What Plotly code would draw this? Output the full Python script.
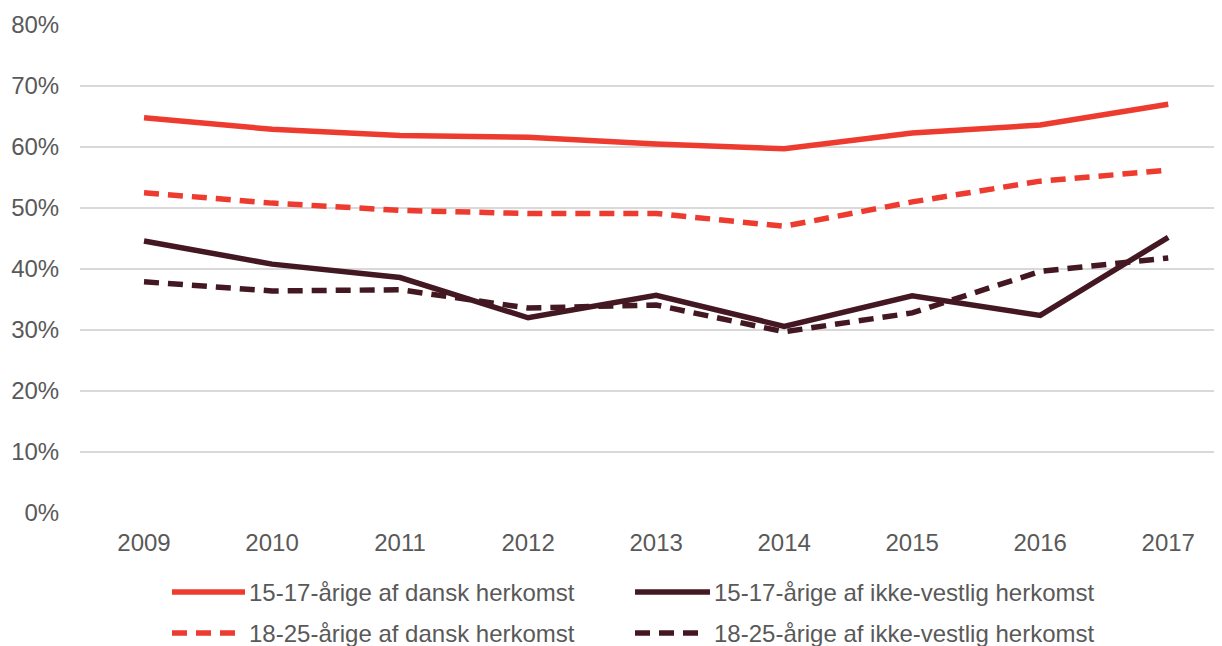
import plotly.graph_objects as go

# years on the x axis
years = ["2009", "2010", "2011", "2012", "2013", "2014", "2015", "2016", "2017"]

# share of each group
dansk_15_17 = [0.648, 0.629, 0.619, 0.616, 0.605, 0.597, 0.623, 0.636, 0.670]
ikkevest_15_17 = [0.446, 0.408, 0.386, 0.320, 0.357, 0.306, 0.356, 0.324, 0.452]
dansk_18_25 = [0.525, 0.508, 0.496, 0.491, 0.491, 0.470, 0.510, 0.544, 0.562]
ikkevest_18_25 = [0.379, 0.364, 0.366, 0.336, 0.341, 0.297, 0.328, 0.396, 0.418]

red = "#EE3B2F"
dark = "#441822"
dash = "15px,9px"

series = [
    ("15-17-årige af dansk herkomst", dansk_15_17, red, "solid"),
    ("15-17-årige af ikke-vestlig herkomst", ikkevest_15_17, dark, "solid"),
    ("18-25-årige af dansk herkomst", dansk_18_25, red, dash),
    ("18-25-årige af ikke-vestlig herkomst", ikkevest_18_25, dark, dash),
]

fig = go.Figure()
for name, vals, col, d in series:
    fig.add_trace(go.Scatter(x=years, y=vals, mode="lines", name=name,
                             line=dict(color=col, width=5.5, dash=d)))

# page body adds an 8px margin, so the figure is 8px smaller each way
W, H = 1214, 638
L, T, B = 72, 17, 133
pw, ph = W - L, H - T - B


def px(x):
    return (x - L) / pw


def py(y):
    return (H - B - y) / ph


# hand-made legend (2 columns x 2 rows), figure pixel positions
cols = [(164, 237), (627, 702)]
rows = [584, 625]
for i, (name, vals, col, d) in enumerate(series):
    x0, x1 = cols[i % 2]
    y = rows[i // 2]
    # dashed samples end a little earlier, like the original
    x1_line = x1 - 6 if d != "solid" else x1
    fig.add_shape(type="line", xref="paper", yref="paper",
                  x0=px(x0), x1=px(x1_line), y0=py(y), y1=py(y),
                  line=dict(color=col, width=5.5, dash=d))
    fig.add_annotation(xref="paper", yref="paper", x=px(x1 + 2), y=py(y),
                       xanchor="left", yanchor="middle", showarrow=False,
                       text=name, font=dict(size=24, color="#595959"))

fig.update_layout(
    width=W, height=H,
    margin=dict(l=L, r=0, t=T, b=B),
    plot_bgcolor="white", paper_bgcolor="white",
    font=dict(family="Liberation Sans, Arial", size=24, color="#595959"),
    showlegend=False,
)
fig.update_xaxes(type="category", range=[-0.5, 8.42], showgrid=False,
                 showline=False, ticks="outside", ticklen=8, tickcolor="white",
                 automargin=False)
fig.update_yaxes(range=[0, 0.8], dtick=0.1, tickformat=".0%",
                 showgrid=True, gridcolor="#D9D9D9", gridwidth=1.5,
                 zeroline=False, showline=False,
                 ticks="outside", ticklen=15, tickcolor="white",
                 automargin=False)

fig.write_html("out.html")
